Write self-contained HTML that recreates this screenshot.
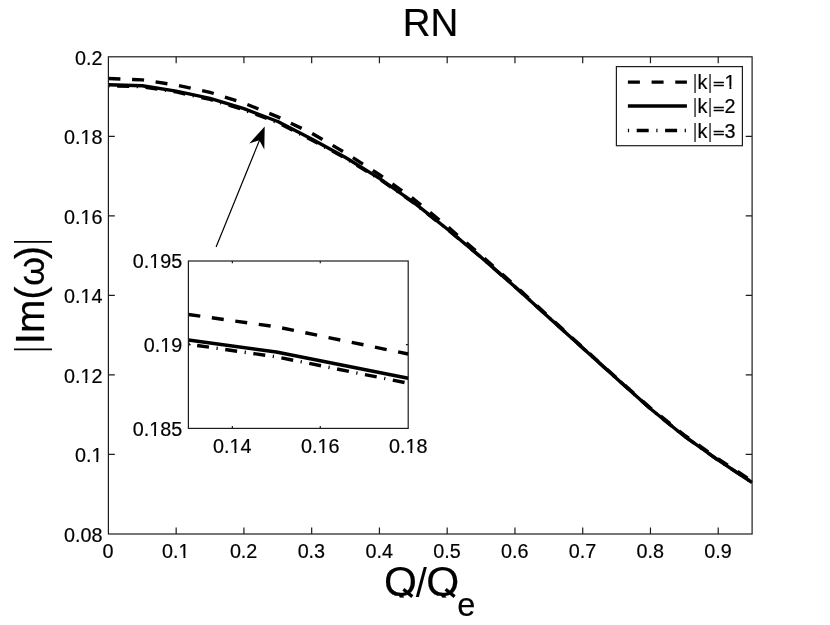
<!DOCTYPE html>
<html><head><meta charset="utf-8"><title>RN</title>
<style>html,body{margin:0;padding:0;background:#fff;}svg{display:block;will-change:transform;transform:translateZ(0);}text{font-family:"Liberation Sans",sans-serif;fill:#000;stroke:#000;stroke-width:0.2px;}.tk{font-size:20.3px;}.br{fill:#444;stroke:none;}.ax{stroke:#1c1c1c;stroke-width:1.2;fill:none;}.cv{stroke:#000;stroke-width:3.4;fill:none;stroke-linejoin:round;}</style></head><body>
<svg width="830" height="625" viewBox="0 0 830 625">
<rect x="0" y="0" width="830" height="625" fill="#fff"/>
<defs>
<clipPath id="cm"><rect x="108.40" y="56.80" width="644.30" height="477.20"/></clipPath>
<clipPath id="ci"><rect x="188.40" y="261.00" width="220.40" height="167.40"/></clipPath>
</defs>
<text transform="translate(430.5 36.3) scale(0.97 1)" text-anchor="middle" style="font-size:39.7px">RN</text>
<g clip-path="url(#cm)">
<path class="cv" stroke-dasharray="1.2 7.6 12 7.6" d="M108.40 85.80 L142.28 86.80 L176.16 91.94 L210.04 99.45 L243.92 109.88 L277.79 122.60 L311.67 139.90 L345.55 158.30 L379.43 179.00 L413.31 202.60 L447.19 229.20 L481.07 257.20 L514.95 286.70 L548.83 317.50 L582.71 348.00 L616.58 378.50 L650.46 408.80 L684.34 436.20 L718.22 460.20 L752.10 482.50"/>
<path class="cv" d="M108.40 84.80 L142.28 85.80 L176.16 91.17 L210.04 98.30 L243.92 108.71 L277.79 121.50 L311.67 138.90 L345.55 157.50 L379.43 178.40 L413.31 202.20 L447.19 229.00 L481.07 257.20 L514.95 286.70 L548.83 317.50 L582.71 348.00 L616.58 378.50 L650.46 408.80 L684.34 436.20 L718.22 460.20 L752.10 482.50"/>
<path class="cv" stroke-dasharray="12 11.68" d="M108.40 78.50 L142.28 79.90 L176.16 85.01 L210.04 92.32 L243.92 103.08 L277.79 116.90 L311.67 133.20 L345.55 152.90 L379.43 174.70 L413.31 198.70 L447.19 226.30 L481.07 255.40 L514.95 285.40 L548.83 316.60 L582.71 347.40 L616.58 377.90 L650.46 408.00 L684.34 435.10 L718.22 458.90 L752.10 481.10"/>
</g>
<rect class="ax" x="108.40" y="56.80" width="643.70" height="477.20"/>
<path class="ax" d="M176.16 534.00v-6.40M176.16 56.80v6.40M243.92 534.00v-6.40M243.92 56.80v6.40M311.67 534.00v-6.40M311.67 56.80v6.40M379.43 534.00v-6.40M379.43 56.80v6.40M447.19 534.00v-6.40M447.19 56.80v6.40M514.95 534.00v-6.40M514.95 56.80v6.40M582.71 534.00v-6.40M582.71 56.80v6.40M650.46 534.00v-6.40M650.46 56.80v6.40M718.22 534.00v-6.40M718.22 56.80v6.40M108.40 454.47h6.40M752.10 454.47h-6.40M108.40 374.93h6.40M752.10 374.93h-6.40M108.40 295.40h6.40M752.10 295.40h-6.40M108.40 215.87h6.40M752.10 215.87h-6.40M108.40 136.33h6.40M752.10 136.33h-6.40"/>
<text class="tk" transform="translate(108.10 558.40) scale(0.975 1)" text-anchor="middle">0</text>
<text class="tk" transform="translate(175.86 558.40) scale(0.975 1)" text-anchor="middle">0.1</text>
<text class="tk" transform="translate(243.62 558.40) scale(0.975 1)" text-anchor="middle">0.2</text>
<text class="tk" transform="translate(311.37 558.40) scale(0.975 1)" text-anchor="middle">0.3</text>
<text class="tk" transform="translate(379.13 558.40) scale(0.975 1)" text-anchor="middle">0.4</text>
<text class="tk" transform="translate(446.89 558.40) scale(0.975 1)" text-anchor="middle">0.5</text>
<text class="tk" transform="translate(514.65 558.40) scale(0.975 1)" text-anchor="middle">0.6</text>
<text class="tk" transform="translate(582.41 558.40) scale(0.975 1)" text-anchor="middle">0.7</text>
<text class="tk" transform="translate(650.16 558.40) scale(0.975 1)" text-anchor="middle">0.8</text>
<text class="tk" transform="translate(717.92 558.40) scale(0.975 1)" text-anchor="middle">0.9</text>
<text class="tk" transform="translate(102.40 541.80) scale(0.975 1)" text-anchor="end">0.08</text>
<text class="tk" transform="translate(102.40 462.27) scale(0.975 1)" text-anchor="end">0.1</text>
<text class="tk" transform="translate(102.40 382.73) scale(0.975 1)" text-anchor="end">0.12</text>
<text class="tk" transform="translate(102.40 303.20) scale(0.975 1)" text-anchor="end">0.14</text>
<text class="tk" transform="translate(102.40 223.67) scale(0.975 1)" text-anchor="end">0.16</text>
<text class="tk" transform="translate(102.40 144.13) scale(0.975 1)" text-anchor="end">0.18</text>
<text class="tk" transform="translate(102.40 64.60) scale(0.975 1)" text-anchor="end">0.2</text>
<text y="596.3" style="font-size:42.4px"><tspan x="384.0">Q</tspan><tspan x="415.7" y="596.5" style="font-size:40px;stroke:none">/</tspan><tspan x="426.2" y="596.3">Q</tspan></text>
<text x="457.3" y="616.2" style="font-size:32.6px">e</text>
<rect x="396" y="597.6" width="62" height="10" fill="#fff"/>
<path d="M403.4 589.3 L412.3 596.6 M445.6 589.3 L454.6 596.6" stroke="#000" stroke-width="3.3" fill="none"/>
<text transform="translate(43.5 354.6) rotate(-90)" x="10.4 21.5 54.8" style="font-size:40.0px">Im(</text>
<text transform="translate(43.5 354.6) rotate(-90)" x="68.6" style="font-size:37.4px">ω</text>
<text transform="translate(43.5 354.6) rotate(-90)" x="95.3" style="font-size:40.0px">)</text>
<text transform="translate(43.5 354.6) rotate(-90) translate(5.20 0) scale(0.55 1) translate(-5.20 0)" style="font-size:40.0px;stroke:none">|</text>
<text transform="translate(43.5 354.6) rotate(-90) translate(112.70 0) scale(0.55 1) translate(-5.20 0)" style="font-size:40.0px;stroke:none">|</text>
<rect class="ax" x="616.4" y="66.6" width="126" height="79.1" fill="#fff" style="fill:#fff"/>
<path class="cv" stroke-dasharray="12 11.68" d="M627.9 82.1H686.9"/>
<path class="cv" d="M627.9 106.0H686.9"/>
<path class="cv" stroke-dasharray="1.2 7.6 12 7.6" d="M627.9 130.45H686.9"/>
<text class="tk" transform="translate(692.45 88.70) scale(0.975 1)"><tspan class="br">|</tspan>k<tspan class="br">|</tspan></text>
<text class="tk" style="stroke-width:0.6px" transform="translate(712.93 88.40) scale(0.975 0.65)">=</text>
<text class="tk" transform="translate(724.59 88.70) scale(0.975 1)" text-anchor="start">1</text>
<text class="tk" transform="translate(692.45 112.90) scale(0.975 1)"><tspan class="br">|</tspan>k<tspan class="br">|</tspan></text>
<text class="tk" style="stroke-width:0.6px" transform="translate(712.93 112.60) scale(0.975 0.65)">=</text>
<text class="tk" transform="translate(724.59 112.90) scale(0.975 1)" text-anchor="start">2</text>
<text class="tk" transform="translate(692.45 137.50) scale(0.975 1)"><tspan class="br">|</tspan>k<tspan class="br">|</tspan></text>
<text class="tk" style="stroke-width:0.6px" transform="translate(712.93 137.20) scale(0.975 0.65)">=</text>
<text class="tk" transform="translate(724.59 137.50) scale(0.975 1)" text-anchor="start">3</text>
<rect x="188.40" y="261.00" width="219.80" height="167.40" fill="#fff"/>
<g clip-path="url(#ci)">
<path class="cv" stroke-dasharray="1.2 7.6 12 7.6" d="M188.40 344.20 L276.32 356.85 L408.20 383.20"/>
<path class="cv" d="M188.40 339.99 L276.32 352.00 L408.20 378.29"/>
<path class="cv" stroke-dasharray="12 11.68" d="M188.40 314.50 L276.32 326.80 L408.20 354.00"/>
</g>
<rect class="ax" x="188.40" y="261.00" width="219.80" height="167.40"/>
<path class="ax" d="M232.36 428.40v-2.30M232.36 261.00v2.30M320.28 428.40v-2.30M320.28 261.00v2.30M188.40 344.70h2.30M408.20 344.70h-2.30"/>
<text class="tk" transform="translate(232.36 452.80) scale(0.975 1)" text-anchor="middle">0.14</text>
<text class="tk" transform="translate(320.28 452.80) scale(0.975 1)" text-anchor="middle">0.16</text>
<text class="tk" transform="translate(408.20 452.80) scale(0.975 1)" text-anchor="middle">0.18</text>
<text class="tk" transform="translate(182.20 435.70) scale(0.975 1)" text-anchor="end">0.185</text>
<text class="tk" transform="translate(182.20 352.00) scale(0.975 1)" text-anchor="end">0.19</text>
<text class="tk" transform="translate(182.20 268.30) scale(0.975 1)" text-anchor="end">0.195</text>
<path d="M216.1 247 L260.6 137.5" stroke="#000" stroke-width="1.2" fill="none"/>
<path d="M264.7 126.4 L264.3 149.6 L259.3 140.3 L249.3 143.4 Z" fill="#000"/>
<g fill="#fff"><rect x="179.57" y="555.67" width="3.91" height="3.73"/><rect x="185.43" y="555.67" width="3.86" height="3.73"/><rect x="92.36" y="459.53" width="3.91" height="3.73"/><rect x="98.22" y="459.53" width="3.86" height="3.73"/><rect x="81.35" y="380.00" width="3.91" height="3.73"/><rect x="87.21" y="380.00" width="3.86" height="3.73"/><rect x="81.35" y="300.47" width="3.91" height="3.73"/><rect x="87.21" y="300.47" width="3.86" height="3.73"/><rect x="81.35" y="220.93" width="3.91" height="3.73"/><rect x="87.21" y="220.93" width="3.86" height="3.73"/><rect x="81.35" y="141.40" width="3.91" height="3.73"/><rect x="87.21" y="141.40" width="3.86" height="3.73"/><rect x="725.55" y="85.97" width="3.91" height="3.73"/><rect x="731.41" y="85.97" width="3.86" height="3.73"/><rect x="230.57" y="450.07" width="3.91" height="3.73"/><rect x="236.43" y="450.07" width="3.86" height="3.73"/><rect x="318.49" y="450.07" width="3.91" height="3.73"/><rect x="324.35" y="450.07" width="3.86" height="3.73"/><rect x="406.41" y="450.07" width="3.91" height="3.73"/><rect x="412.27" y="450.07" width="3.86" height="3.73"/><rect x="150.14" y="432.97" width="3.91" height="3.73"/><rect x="156.00" y="432.97" width="3.86" height="3.73"/><rect x="161.15" y="349.27" width="3.91" height="3.73"/><rect x="167.01" y="349.27" width="3.86" height="3.73"/><rect x="150.14" y="265.57" width="3.91" height="3.73"/><rect x="156.00" y="265.57" width="3.86" height="3.73"/></g>
</svg></body></html>
